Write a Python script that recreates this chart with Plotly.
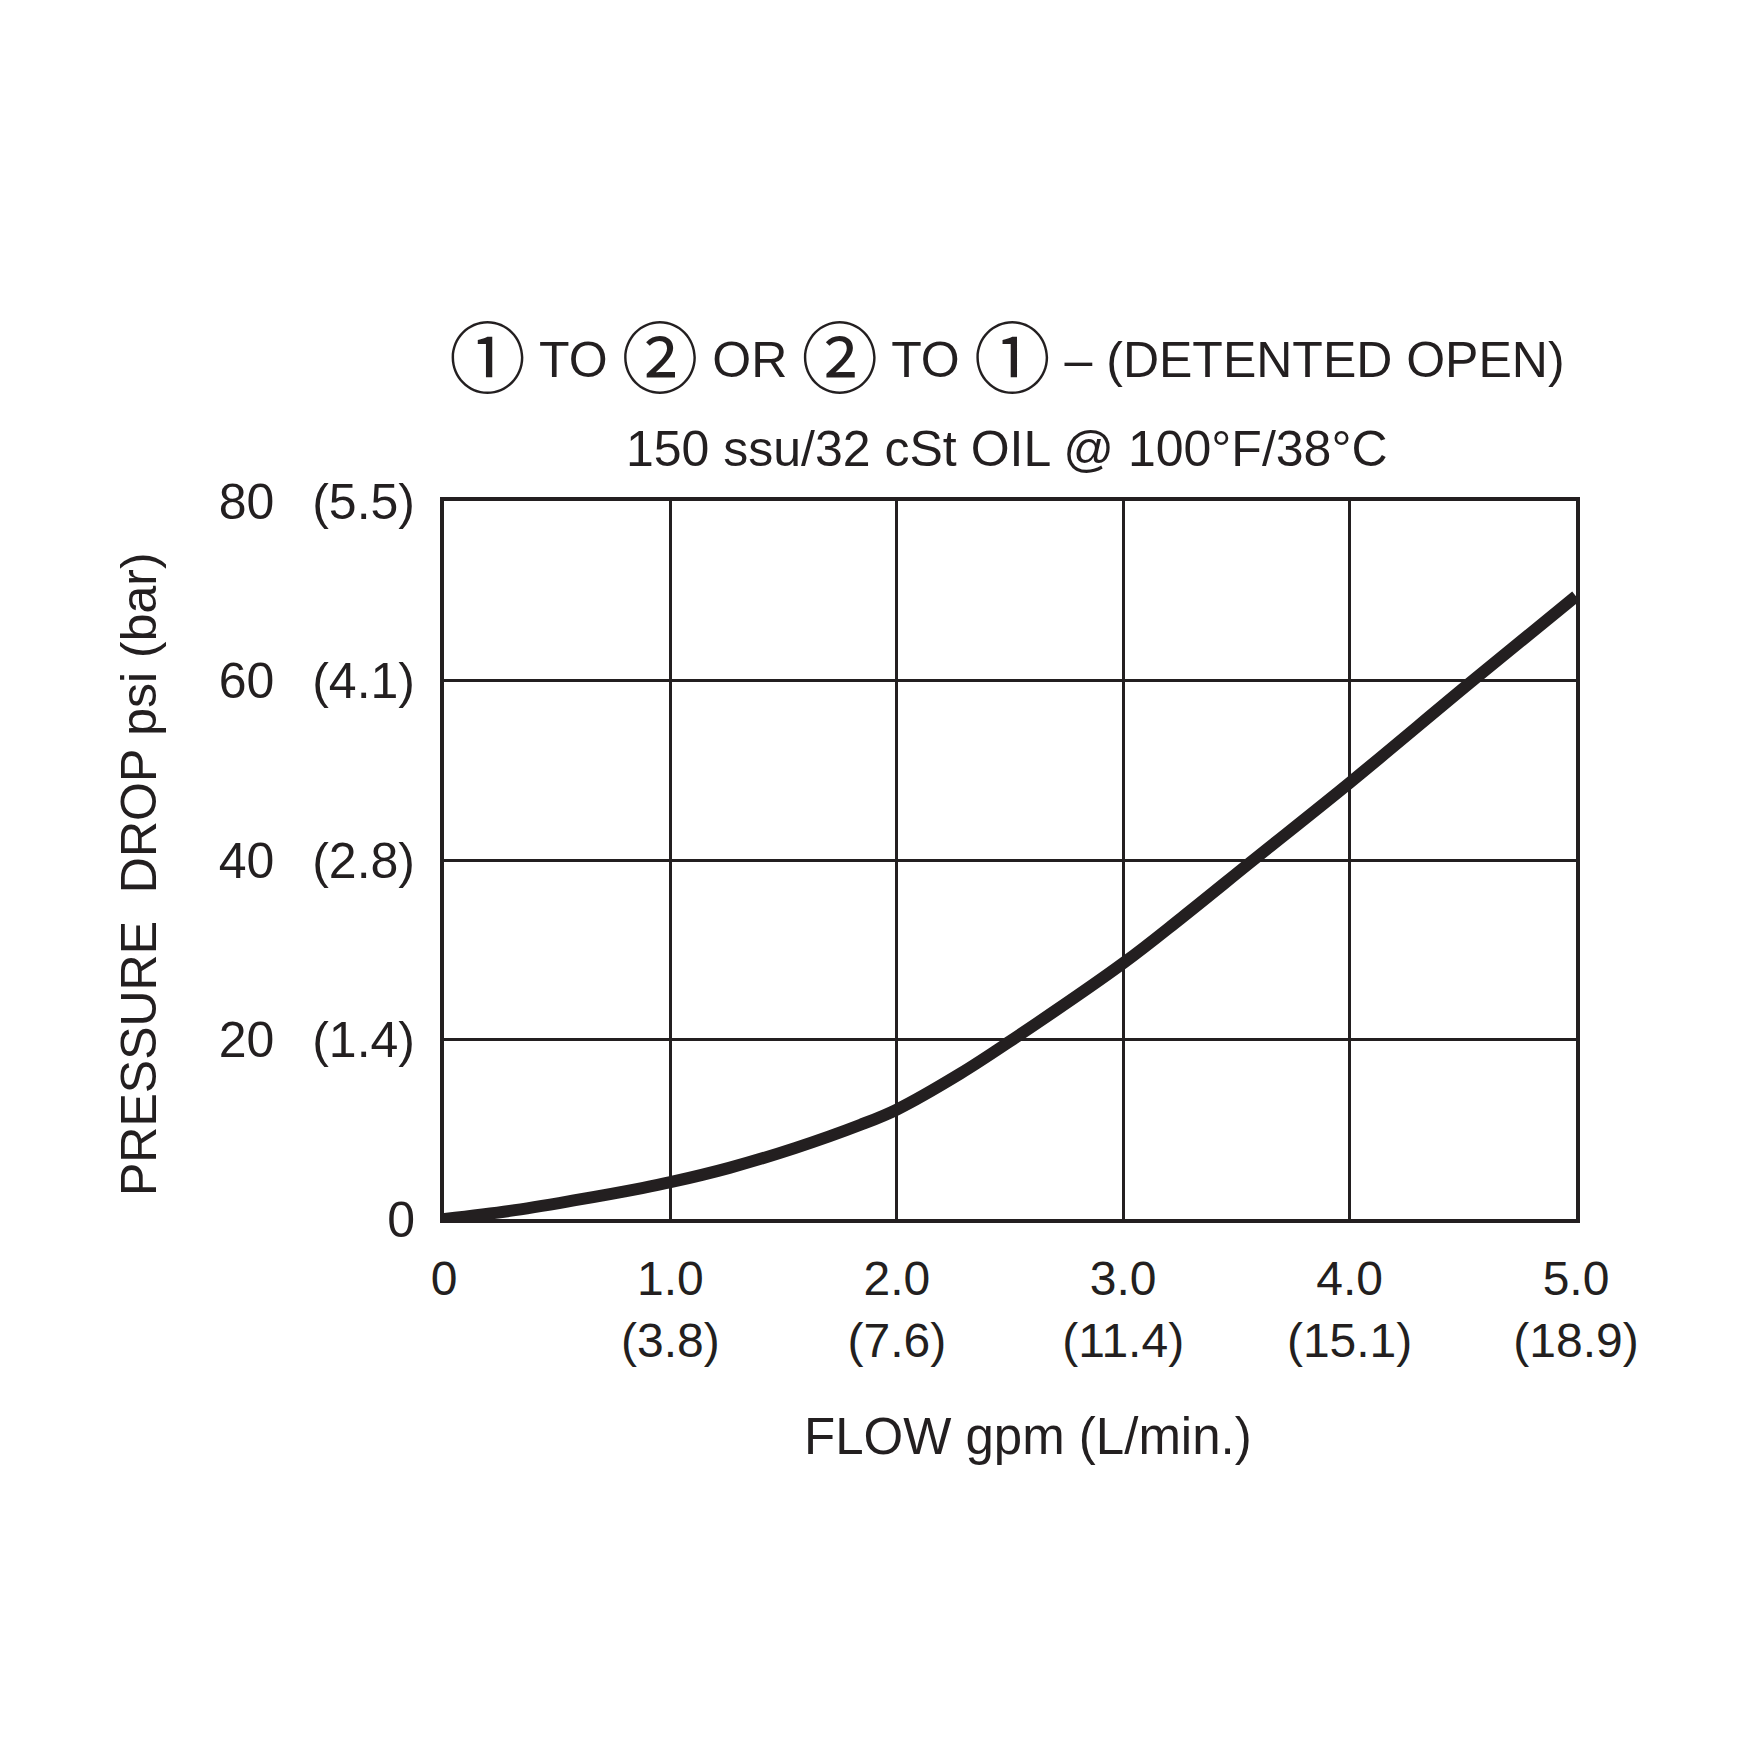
import plotly.graph_objects as go

# Data
flow_gpm = [0, 0.29, 0.58, 0.875, 1.0, 1.26, 1.55, 1.84, 2.0, 2.28, 2.5, 3.0, 3.26, 3.57, 4.0, 4.53, 5.0]
pressure_psi = [0, 0.9, 2.1, 3.45, 4.1, 5.7, 7.9, 10.5, 12.2, 16.2, 19.8, 28.5, 33.6, 39.9, 48.6, 59.7, 69.4]

x_tickvals = [0, 1, 2, 3, 4, 5]
x_ticktext = ["0", "1.0<br>(3.8)", "2.0<br>(7.6)", "3.0<br>(11.4)", "4.0<br>(15.1)", "5.0<br>(18.9)"]
y_tickvals = [0, 20, 40, 60, 80]
y_psi = ["0", "20", "40", "60", "80"]
y_bar = ["", "(1.4)", "(2.8)", "(4.1)", "(5.5)"]
y_ticktext = [p if b == "" else p + "\u00a0\u00a0\u2009" + b for p, b in zip(y_psi, y_bar)]

INK = "#231f20"
FONT = "Liberation Sans, Arial, Helvetica, sans-serif"

fig = go.Figure()
fig.add_trace(go.Scatter(
    x=flow_gpm, y=pressure_psi, mode="lines",
    line=dict(color=INK, width=12, shape="spline", smoothing=1.0),
    hoverinfo="skip", showlegend=False,
))

axis_common = dict(
    showgrid=True, gridcolor=INK, gridwidth=3,
    showline=True, linecolor=INK, linewidth=4, mirror=True,
    zeroline=False, ticks="",
)

fig.update_xaxes(range=[0, 5], tickvals=x_tickvals, ticktext=x_ticktext,
                 ticklabelstandoff=14, tickfont=dict(family=FONT, size=48, color=INK),
                 **axis_common)
fig.update_yaxes(range=[0, 80], tickvals=y_tickvals, ticktext=y_ticktext,
                 ticklabelstandoff=15, tickfont=dict(family=FONT, size=50, color=INK),
                 **axis_common)

circ = ('<span style="font-size:77px;font-family:\'Noto Sans CJK JP\';'
        'baseline-shift:-10px">{}</span>')
title_text = (circ.format("①") + " TO " + circ.format("②") + " OR " + circ.format("②")
              + " TO " + circ.format("①") + " – (DETENTED OPEN)")

annotations = [
    dict(text=title_text, x=0.497, y=1.205, xref="paper", yref="paper",
         xanchor="center", yanchor="middle", showarrow=False,
         font=dict(family=FONT, size=50, color=INK)),
    dict(text="150 ssu/32 cSt OIL @ 100°F/38°C", x=0.497, y=1.072, xref="paper", yref="paper",
         xanchor="center", yanchor="middle", showarrow=False,
         font=dict(family=FONT, size=50, color=INK)),
    dict(text="FLOW gpm (L/min.)", x=0.516, y=-0.303, xref="paper", yref="paper",
         xanchor="center", yanchor="middle", showarrow=False,
         font=dict(family=FONT, size=51, color=INK)),
    dict(text="PRESSURE\u00a0\u00a0DROP psi (bar)", x=-0.270, y=0.481, xref="paper", yref="paper",
         xanchor="center", yanchor="middle", showarrow=False, textangle=-90,
         font=dict(family=FONT, size=50, color=INK)),
]

fig.update_layout(
    width=1740, height=1740,
    margin=dict(l=436, r=172, t=493, b=529, autoexpand=False),
    paper_bgcolor="white", plot_bgcolor="white",
    annotations=annotations,
    showlegend=False,
)

fig.write_html("out.html")
